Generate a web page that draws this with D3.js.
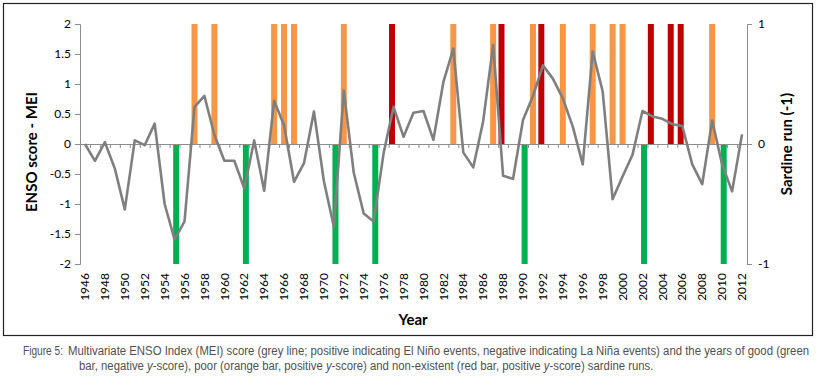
<!DOCTYPE html>
<html>
<head>
<meta charset="utf-8">
<script src="https://cdn.jsdelivr.net/npm/d3@7"></script>
<style>
  body { margin: 0; background: #fff; }
  svg { display: block; }
  .axis path, .axis line { stroke: #8c8c8c; }
  .axis text { font-family: Lato, "Open Sans", sans-serif; font-size: 12px; fill: #000; }
  .title { font-family: Lato, "Open Sans", sans-serif; font-weight: bold; font-size: 15px; fill: #000; }
  .caption { font-family: "Liberation Sans", Arial, sans-serif; font-size: 13.5px; fill: #505050; }
</style>
</head>
<body>
<div id="chart"></div>
<script>
// years on the category axis
const years = d3.range(1946, 2013);

// MEI score, one value per year
const mei = [
   0.00, -0.28,  0.03, -0.41, -1.09,  0.06, -0.02,  0.34, -1.00, -1.59,
  -1.29,  0.62,  0.80,  0.15, -0.28, -0.28, -0.74,  0.06, -0.78,  0.72,
   0.31, -0.63, -0.32,  0.54, -0.62, -1.38,  0.89, -0.48, -1.16, -1.29,
  -0.15,  0.62,  0.12,  0.52,  0.55,  0.07,  1.03,  1.59, -0.14, -0.39,
   0.38,  1.65, -0.53, -0.58,  0.40,  0.80,  1.31,  1.09,  0.76,  0.29,
  -0.34,  1.54,  0.88, -0.92, -0.54, -0.18,  0.55,  0.46,  0.42,  0.33,
   0.30, -0.34, -0.67,  0.39, -0.34, -0.79,  0.16
];

// sardine run years (right axis: good = -1, poor / none = +1)
const goodYears = [1955, 1962, 1971, 1975, 1990, 2002, 2010];
const poorYears = [1957, 1959, 1965, 1966, 1967, 1972, 1983, 1987, 1991, 1994, 1997, 1999, 2000, 2009];
const noneYears = [1977, 1988, 1992, 2003, 2005, 2006];

const leftTicks = [2, 1.5, 1, 0.5, 0, -0.5, -1, -1.5, -2];
const rightTicks = [1, 0, -1];

const W = 822, H = 379;
const plot = {left: 80, right: 747, top: 24, bottom: 264};

const svg = d3.select("#chart").append("svg")
    .attr("width", W)
    .attr("height", H);

// outer frame
svg.append("rect")
    .attr("x", 3.5).attr("y", 3.5)
    .attr("width", 809).attr("height", 332)
    .attr("fill", "none")
    .attr("stroke", "#222")
    .attr("stroke-width", 1.2);

// scales
const x = d3.scaleBand().domain(years).range([plot.left, plot.right]);
const xEdge = d3.scaleLinear().domain([0, years.length]).range([plot.left, plot.right]);
const y = d3.scaleLinear().domain([-2, 2]).range([plot.bottom, plot.top]);
const y2 = d3.scaleLinear().domain([-1, 1]).range([plot.bottom, plot.top]);
const seriesShift = d3.scalePoint().domain(["none", "poor", "good"]).range([-1.6, 1.6]);
const barW = 6;

const bars = [].concat(
    goodYears.map(yr => ({year: yr, v: -1, s: "good"})),
    poorYears.map(yr => ({year: yr, v: 1, s: "poor"})),
    noneYears.map(yr => ({year: yr, v: 1, s: "none"}))
);
const colors = {good: "#00b050", poor: "#f79646", none: "#c00000"};

svg.append("g").selectAll("rect")
    .data(bars)
    .enter()
    .append("rect")
    .attr("x", d => x(d.year) + x.bandwidth() / 2 + seriesShift(d.s) - barW / 2)
    .attr("y", d => Math.min(y2(d.v), y2(0)))
    .attr("width", barW)
    .attr("height", d => Math.abs(y2(d.v) - y2(0)))
    .attr("fill", d => colors[d.s]);

// left axis
const yAxis = d3.axisLeft(y).tickValues(leftTicks).tickSize(5).tickPadding(4)
    .tickFormat(d => String(d));
svg.append("g")
    .attr("class", "axis")
    .attr("transform", `translate(${plot.left},0)`)
    .call(yAxis)
    .call(g => g.select(".domain").attr("d", `M-5,${plot.top + 0.5}H0.5V${plot.bottom + 0.5}H-5`));

// right axis
const y2Axis = d3.axisRight(y2).tickValues(rightTicks).tickSize(5).tickPadding(6)
    .tickFormat(d => String(d));
svg.append("g")
    .attr("class", "axis")
    .attr("transform", `translate(${plot.right},0)`)
    .call(y2Axis)
    .call(g => g.select(".domain").attr("d", `M5,${plot.top + 0.5}H0.5V${plot.bottom + 0.5}H5`));

// zero line with year tick marks
const xAxis = d3.axisBottom(xEdge).tickValues(d3.range(0, years.length + 1))
    .tickSize(4).tickFormat("");
svg.append("g")
    .attr("class", "axis")
    .attr("transform", `translate(0,${y(0)})`)
    .call(xAxis)
    .call(g => g.select(".domain").attr("d", `M${plot.left},0.5H${plot.right}`));

// year labels, every second year
const xLabels = d3.axisBottom(x).tickValues(years.filter(yr => yr % 2 === 0)).tickSize(0);
svg.append("g")
    .attr("class", "axis")
    .attr("transform", `translate(0,${plot.bottom})`)
    .call(xLabels)
    .call(g => g.select(".domain").remove())
    .selectAll("text")
    .attr("transform", "rotate(-90)")
    .attr("text-anchor", "end")
    .attr("x", -9)
    .attr("y", 0)
    .attr("dy", "0.35em");

// MEI line
const line = d3.line()
    .x((d, i) => x(years[i]) + x.bandwidth() / 2)
    .y(d => y(d));

svg.append("path")
    .datum(mei)
    .attr("d", line)
    .attr("fill", "none")
    .attr("stroke", "#7f7f7f")
    .attr("stroke-width", 2.6)
    .attr("stroke-linejoin", "round");

// axis titles
svg.append("text")
    .attr("class", "title")
    .attr("transform", "translate(37,152) rotate(-90)")
    .attr("text-anchor", "middle")
    .text("ENSO score - MEI");

svg.append("text")
    .attr("class", "title")
    .attr("transform", "translate(792,144) rotate(-90)")
    .attr("text-anchor", "middle")
    .text("Sardine run (-1)");

svg.append("text")
    .attr("class", "title")
    .attr("x", 413)
    .attr("y", 325)
    .attr("text-anchor", "middle")
    .text("Year");

// caption: narrow look made by squeezing each line to its width in the figure
function captionLine(x0, y0, width, parts) {
    const t = svg.append("text").attr("class", "caption");
    parts.forEach(p => {
        t.append("tspan")
            .attr("font-style", p.italic ? "italic" : null)
            .text(p.s);
    });
    const w = t.node().getComputedTextLength();
    t.attr("transform", `translate(${x0},${y0}) scale(${width / w},1)`);
}

captionLine(23, 355, 40, [{s: "Figure 5:"}]);
captionLine(68, 355, 742, [{s: "Multivariate ENSO Index (MEI) score (grey line; positive indicating El Niño events, negative indicating La Niña events) and the years of good (green"}]);
captionLine(79, 370, 575, [
    {s: "bar, negative "}, {s: "y", italic: true},
    {s: "-score), poor (orange bar, positive "}, {s: "y", italic: true},
    {s: "-score) and non-existent (red bar, positive "}, {s: "y", italic: true},
    {s: "-score) sardine runs."}
]);
</script>
</body>
</html>
